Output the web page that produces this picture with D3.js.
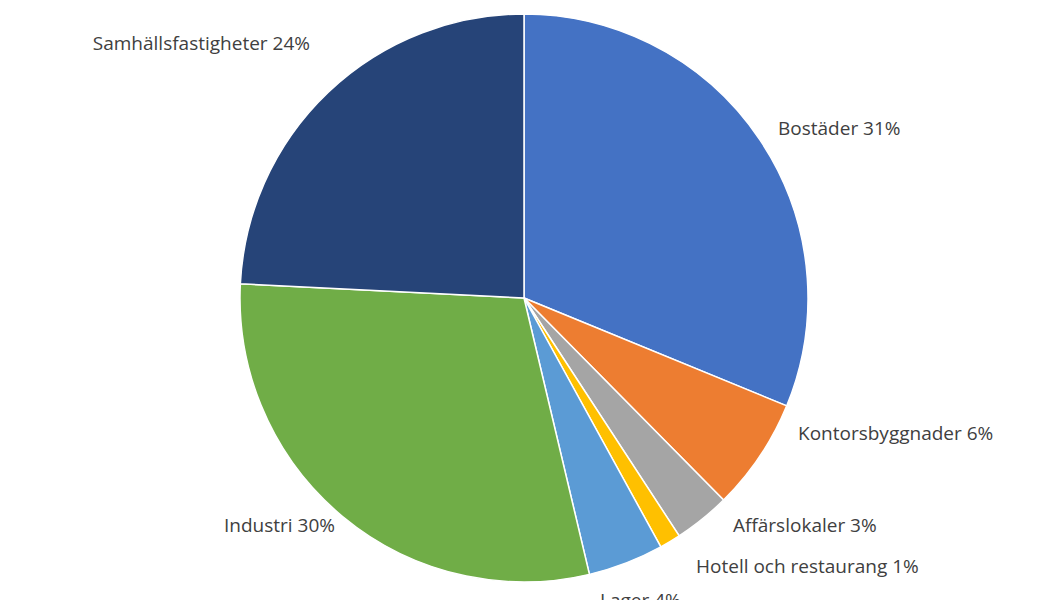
<!DOCTYPE html>
<html><head><meta charset="utf-8">
<script src="https://cdn.jsdelivr.net/npm/d3@7"></script>
<style>body{margin:0;background:#fff}</style></head>
<body><div id="chart"></div>
<script>
"use strict";

let categories = ["Bostäder", "Kontorsbyggnader", "Affärslokaler", "Hotell och restaurang", "Lager", "Industri", "Samhällsfastigheter"];
let values = [31.2, 6.4, 3.2, 1.2, 4.3, 29.5, 24.2];
let labels = ["Bostäder 31%", "Kontorsbyggnader 6%", "Affärslokaler 3%", "Hotell och restaurang 1%", "Lager 4%", "Industri 30%", "Samhällsfastigheter 24%"];
let colors = ["#4472C4", "#ED7D31", "#A5A5A5", "#FFC000", "#5B9BD5", "#70AD47", "#264478"];

let width = 1050, height = 600;
let cx = 524, cy = 298, r = 284;

let svg = d3.select("#chart").append("svg")
  .attr("width", width)
  .attr("height", height);

let pie = d3.pie().sort(null).value(d => d);
let arcs = pie(values);
let arc = d3.arc().innerRadius(0).outerRadius(r);

let g = svg.append("g").attr("transform", `translate(${cx},${cy})`);

g.selectAll("path")
  .data(arcs)
  .join("path")
  .attr("d", arc)
  .attr("fill", (d, i) => colors[i])
  .attr("stroke", "#fff")
  .attr("stroke-width", 1.5);

// label anchors relative to the pie centre (Excel "outside end" look)
let labelPos = [[254, -170, "start"], [274, 135, "start"], [209, 227, "start"], [172, 268, "start"],
                [76, 302, "start"], [-189, 227, "end"], [-214, -255, "end"]];

g.selectAll("text")
  .data(arcs)
  .join("text")
  .attr("x", (d, i) => labelPos[i][0])
  .attr("y", (d, i) => labelPos[i][1])
  .attr("dy", "0.35em")
  .attr("text-anchor", (d, i) => labelPos[i][2])
  .attr("font-family", "Open Sans, Noto Sans, sans-serif")
  .attr("font-size", 19)
  .attr("fill", "#404040")
  .text((d, i) => labels[i]);
</script></body></html>
